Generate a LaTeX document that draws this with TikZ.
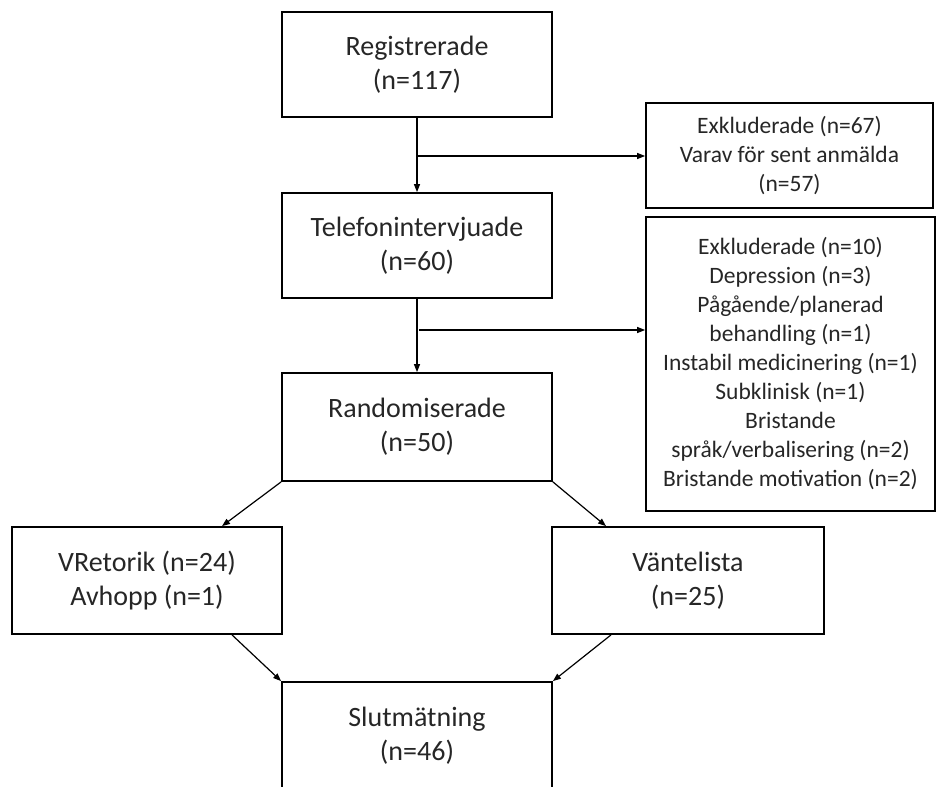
\documentclass[tikz,border=0pt]{standalone}
\usepackage{fontspec}
\setmainfont{Carlito}
\usetikzlibrary{arrows.meta}
\definecolor{txt}{HTML}{262626}
\tikzset{
  mainbox/.style={draw=black, line width=1.8pt, minimum width=270pt, inner sep=0pt, align=center, text=txt,
    font=\fontsize{28}{34}\selectfont},
  sidebox/.style={draw=black, line width=1.8pt, inner sep=0pt, align=center, text=txt,
    font=\fontsize{23.5}{29}\selectfont},
  arr/.style={draw=black, line width=1.2pt, -{Triangle[length=8pt,width=6pt]}}
}
\begin{document}
\begin{tikzpicture}[x=1pt,y=-1pt]
\useasboundingbox (0,0) rectangle (937,787);
\node[mainbox, minimum height=105pt] (reg) at (417,64.5) {Registrerade\\(n=117)};
\node[mainbox, minimum height=105pt] (tel) at (417,245.5) {Telefonintervjuade\\(n=60)};
\node[mainbox, minimum height=108pt] (ran) at (417,427) {Randomiserade\\(n=50)};
\node[mainbox, minimum height=107pt] (vre) at (147,580.5) {VRetorik (n=24)\\Avhopp (n=1)};
\node[mainbox, minimum width=272pt, minimum height=107pt] (van) at (688,580.5) {Väntelista\\(n=25)};
\node[mainbox, minimum height=108pt] (slu) at (417,736) {Slutmätning\\(n=46)};
\node[sidebox, minimum width=287pt, minimum height=105pt] (ex1) at (789.5,155.5)
  {Exkluderade (n=67)\\Varav för sent anmälda\\(n=57)};
\node[sidebox, minimum width=289pt, minimum height=294pt] (ex2) at (790.5,364)
  {Exkluderade (n=10)\\Depression (n=3)\\Pågående/planerad\\behandling (n=1)\\Instabil medicinering (n=1)\\Subklinisk (n=1)\\Bristande\\språk/verbalisering (n=2)\\Bristande motivation (n=2)};
\coordinate (b1) at (417,156);
\coordinate (b2) at (419,330);
\draw[arr] (reg.south) -- (tel.north);
\draw[arr] (b1) -- (b1 -| ex1.west);
\draw[arr] (tel.south) -- (ran.north);
\draw[arr] (b2) -- (b2 -| ex2.west);
\draw[arr] (ran.south west) -- ([xshift=75pt]vre.north);
\draw[arr] (ran.south east) -- ([xshift=-82pt]van.north);
\draw[arr] ([xshift=85pt]vre.south) -- (slu.north west);
\draw[arr] ([xshift=-77pt]van.south) -- (slu.north east);
\end{tikzpicture}
\end{document}
